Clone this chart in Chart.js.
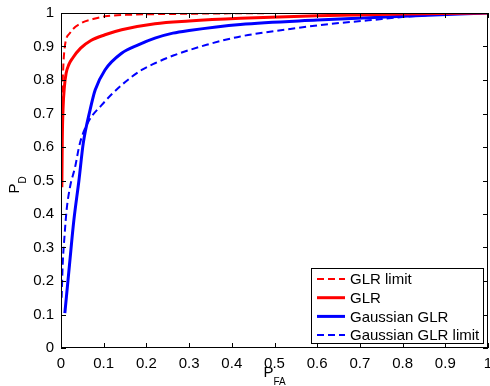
<!DOCTYPE html>
<html>
<head>
<meta charset="utf-8">
<script src="https://cdn.jsdelivr.net/npm/chart.js@4.4.0/dist/chart.umd.min.js"></script>
<style>
  html, body { margin: 0; padding: 0; background: #fff; }
  canvas { display: block; }
</style>
</head>
<body>
<canvas id="roc-chart" width="490" height="386"></canvas>
<script>
// ROC curves, values (x = P_FA, y = P_D)
const seriesLabels = ['GLR limit', 'GLR', 'Gaussian GLR', 'Gaussian GLR limit'];

const glrLimitPfa = [0.001, 0.003, 0.005, 0.009, 0.021, 0.048, 0.075, 0.103, 0.166, 0.25, 0.4, 0.6, 1.0];
const glrLimitPd  = [0.50, 0.74, 0.83, 0.90, 0.94, 0.97, 0.982, 0.99, 0.995, 0.997, 0.999, 1.0, 1.0];

const glrPfa = [0.002, 0.003, 0.005, 0.008, 0.012, 0.018, 0.027, 0.046, 0.07, 0.103, 0.142, 0.22, 0.3, 0.42, 0.6, 0.8, 1.0];
const glrPd  = [0.48, 0.62, 0.72, 0.78, 0.82, 0.845, 0.865, 0.895, 0.918, 0.935, 0.95, 0.968, 0.976, 0.984, 0.992, 0.997, 1.0];

const gaussGlrPfa = [0.009, 0.02, 0.03, 0.042, 0.052, 0.068, 0.08, 0.103, 0.142, 0.181, 0.22, 0.262, 0.3, 0.42, 0.6, 0.8, 1.0];
const gaussGlrPd  = [0.104, 0.25, 0.38, 0.50, 0.61, 0.71, 0.77, 0.83, 0.88, 0.905, 0.925, 0.94, 0.948, 0.966, 0.979, 0.99, 1.0];

const gaussLimitPfa = [0.0015, 0.004, 0.008, 0.013, 0.021, 0.033, 0.044, 0.064, 0.095, 0.142, 0.189, 0.22, 0.263, 0.341, 0.42, 0.536, 0.62, 0.72, 0.81, 0.9, 1.0];
const gaussLimitPd  = [0.15, 0.25, 0.33, 0.41, 0.48, 0.54, 0.61, 0.675, 0.725, 0.785, 0.83, 0.85, 0.873, 0.905, 0.93, 0.952, 0.966, 0.978, 0.989, 0.996, 1.0];

const tickValues = [0, 0.1, 0.2, 0.3, 0.4, 0.5, 0.6, 0.7, 0.8, 0.9, 1];

const FONT = "'Liberation Sans', Arial, sans-serif";

function toPoints(xs, ys) {
  return xs.map((x, i) => ({ x, y: ys[i] }));
}

function lineSet(label, xs, ys, color, dashed) {
  return {
    label,
    data: toPoints(xs, ys),
    borderColor: color,
    backgroundColor: color,
    borderWidth: dashed ? 2 : 3,
    borderDash: dashed ? [7, 4] : [],
    borderJoinStyle: 'round',
    pointRadius: 0,
    showLine: true,
    cubicInterpolationMode: 'monotone',
    fill: false,
  };
}

// matlab-ish box with inward ticks on all four sides
const boxPlugin = {
  id: 'box',
  afterDatasetsDraw(chart) {
    const { ctx, chartArea: a, scales } = chart;
    ctx.save();
    ctx.strokeStyle = '#000';
    ctx.lineWidth = 1;
    ctx.beginPath();
    tickValues.forEach(v => {
      const px = Math.round(scales.x.getPixelForValue(v)) + 0.5;
      ctx.moveTo(px, a.bottom); ctx.lineTo(px, a.bottom - 5);
      ctx.moveTo(px, a.top); ctx.lineTo(px, a.top + 5);
      const py = Math.round(scales.y.getPixelForValue(v)) + 0.5;
      ctx.moveTo(a.left, py); ctx.lineTo(a.left + 5, py);
      ctx.moveTo(a.right, py); ctx.lineTo(a.right - 5, py);
    });
    ctx.stroke();
    ctx.strokeRect(a.left + 0.5, a.top + 0.5, a.right - a.left - 1, a.bottom - a.top - 1);
    ctx.restore();
  }
};

// axis titles with subscripts
const titlePlugin = {
  id: 'titles',
  afterDraw(chart) {
    const { ctx, chartArea: a } = chart;
    ctx.save();
    ctx.fillStyle = '#000';
    ctx.textBaseline = 'alphabetic';
    ctx.textAlign = 'left';

    // x title: P_FA
    ctx.font = `15px ${FONT}`;
    const wP = ctx.measureText('P').width;
    ctx.font = `10px ${FONT}`;
    const wFA = ctx.measureText('FA').width;
    let x0 = (a.left + a.right) / 2 - (wP + wFA) / 2;
    ctx.font = `15px ${FONT}`;
    ctx.fillText('P', x0, 377);
    ctx.font = `10px ${FONT}`;
    ctx.fillText('FA', x0 + wP, 385);

    // y title: P_D, rotated
    ctx.font = `10px ${FONT}`;
    const wD = ctx.measureText('D').width;
    ctx.translate(19, 185);
    ctx.rotate(-Math.PI / 2);
    x0 = -(wP + wD) / 2;
    ctx.font = `15px ${FONT}`;
    ctx.fillText('P', x0, 0);
    ctx.font = `10px ${FONT}`;
    ctx.fillText('D', x0 + wP, 7);
    ctx.restore();
  }
};

// legend box in the lower right corner of the axes
const legendPlugin = {
  id: 'boxLegend',
  afterDraw(chart) {
    const { ctx, chartArea: a } = chart;
    const right = a.right - 5, bottom = a.bottom - 5;
    const w = 172, h = 75;
    const left = right - w, top = bottom - h;
    ctx.save();
    ctx.fillStyle = '#fff';
    ctx.fillRect(left, top, w, h);
    ctx.strokeStyle = '#000';
    ctx.lineWidth = 1;
    ctx.strokeRect(left + 0.5, top + 0.5, w, h);
    ctx.font = `15px ${FONT}`;
    ctx.textBaseline = 'middle';
    ctx.textAlign = 'left';
    chart.data.datasets.forEach((ds, i) => {
      const y = top + 11 + i * 18.7;
      ctx.strokeStyle = ds.borderColor;
      ctx.lineWidth = ds.borderWidth;
      ctx.setLineDash(ds.borderDash);
      ctx.beginPath();
      ctx.moveTo(left + 6, y);
      ctx.lineTo(left + 34, y);
      ctx.stroke();
      ctx.setLineDash([]);
      ctx.fillStyle = '#000';
      ctx.fillText(ds.label, left + 39, y + 1);
    });
    ctx.restore();
  }
};

function fixTicks(scale) {
  scale.ticks = tickValues.map(v => ({ value: v }));
}

const ctx = document.getElementById('roc-chart').getContext('2d');
new Chart(ctx, {
  type: 'scatter',
  data: {
    datasets: [
      lineSet(seriesLabels[0], glrLimitPfa, glrLimitPd, '#ff0000', true),
      lineSet(seriesLabels[1], glrPfa, glrPd, '#ff0000', false),
      lineSet(seriesLabels[2], gaussGlrPfa, gaussGlrPd, '#0000ff', false),
      lineSet(seriesLabels[3], gaussLimitPfa, gaussLimitPd, '#0000ff', true),
    ],
  },
  options: {
    responsive: false,
    animation: false,
    devicePixelRatio: 1,
    layout: { padding: { top: 13, right: 2, left: 0, bottom: 0 } },
    plugins: {
      legend: { display: false },
      tooltip: { enabled: false },
    },
    scales: {
      x: {
        type: 'linear',
        min: 0,
        max: 1,
        afterBuildTicks: fixTicks,
        afterFit(s) { s.height = 38; s.paddingLeft = 0; s.paddingRight = 0; },
        grid: { display: false, drawTicks: false },
        border: { display: false },
        ticks: {
          color: '#000',
          padding: 7,
          maxRotation: 0,
          autoSkip: false,
          font: { family: FONT, size: 15 },
          callback: v => String(+v.toFixed(1)),
        },
      },
      y: {
        type: 'linear',
        min: 0,
        max: 1,
        afterBuildTicks: fixTicks,
        afterFit(s) { s.width = 61; s.paddingTop = 0; s.paddingBottom = 0; },
        grid: { display: false, drawTicks: false },
        border: { display: false },
        ticks: {
          color: '#000',
          padding: 7,
          autoSkip: false,
          font: { family: FONT, size: 15 },
          callback: v => String(+v.toFixed(1)),
        },
      },
    },
  },
  plugins: [boxPlugin, titlePlugin, legendPlugin],
});
</script>
</body>
</html>
